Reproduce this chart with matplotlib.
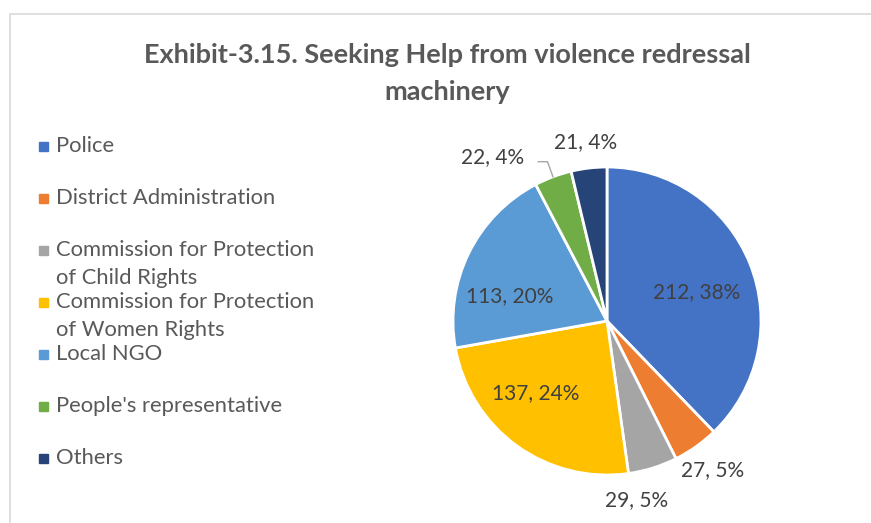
import numpy as np
import matplotlib.pyplot as plt
from matplotlib.patches import Rectangle

# =========================
# DONNÉES
# =========================
categories = ["Police", "District Administration",
              "Commission for Protection\nof Child Rights",
              "Commission for Protection\nof Women Rights",
              "Local NGO", "People's representative", "Others"]
values = [212, 27, 29, 137, 113, 22, 21]
colors = ["#4472C4", "#ED7D31", "#A5A5A5", "#FFC000", "#5B9BD5", "#70AD47", "#264478"]
title = "Exhibit-3.15. Seeking Help from violence redressal\nmachinery"

# placement des étiquettes (style seulement)
label_r = [0.61, 1.19, 1.18, 0.66, 0.65, 1.30, 1.17]
label_nudge = [-4, 0, -8, -9, 12, 14.5, 0]

plt.rcParams['font.family'] = ['Lato', 'DejaVu Sans']

W, H = 871, 523
fig = plt.figure(figsize=(W / 100, H / 100), dpi=100)

# cadre gris clair
fig.patches.append(Rectangle((10 / W, -0.1), 1.2, (H - 14) / H + 0.1,
                             transform=fig.transFigure, fill=False,
                             edgecolor="#D9D9D9", linewidth=1.2))

fig.text(447 / W, 1 - 55 / H, title.split("\n")[0], ha="center", va="center",
         fontsize=19.5, fontweight="bold", color="#595959")
fig.text(447 / W, 1 - 92 / H, title.split("\n")[1], ha="center", va="center",
         fontsize=19.5, fontweight="bold", color="#595959")

# =========================
# CAMEMBERT
# =========================
cx, cy, R = 607, 321, 154
ax = fig.add_axes([(cx - R) / W, (H - cy - R) / H, 2 * R / W, 2 * R / H])
wedges, _ = ax.pie(values, colors=colors, startangle=90, counterclock=False,
                   wedgeprops=dict(edgecolor="white", linewidth=2))
ax.set_xlim(-1, 1)
ax.set_ylim(-1, 1)
ax.set_aspect("equal")
ax.axis("off")

total = sum(values)
for i, w in enumerate(wedges):
    ang = np.deg2rad((w.theta1 + w.theta2) / 2 + label_nudge[i])
    x, y = label_r[i] * np.cos(ang), label_r[i] * np.sin(ang)
    txt = f"{values[i]}, {round(100 * values[i] / total)}%"
    ax.text(x, y, txt, ha="center", va="center", fontsize=15, color="#404040")
    if label_r[i] > 1.25:
        mid = np.deg2rad((w.theta1 + w.theta2) / 2)
        ex, ey = 1.0 * np.cos(mid), 1.0 * np.sin(mid)
        ax.plot([x + 0.3, x + 0.36, ex], [y - 0.03, y - 0.03, ey],
                color="#A6A6A6", lw=1, clip_on=False)

# =========================
# LÉGENDE
# =========================
leg_y = [146, 198, 250, 302, 354, 406, 458]
for i, lab in enumerate(categories):
    top = leg_y[i]
    fig.patches.append(Rectangle((39 / W, 1 - (top + 4.5) / H), 9 / W, 9 / H,
                                 transform=fig.transFigure, color=colors[i]))
    for k, line in enumerate(lab.split("\n")):
        fig.text(56 / W, 1 - (top + 28 * k) / H, line, ha="left", va="center",
                 fontsize=15.8, color="#595959")

fig.savefig("out.png", dpi=100)
